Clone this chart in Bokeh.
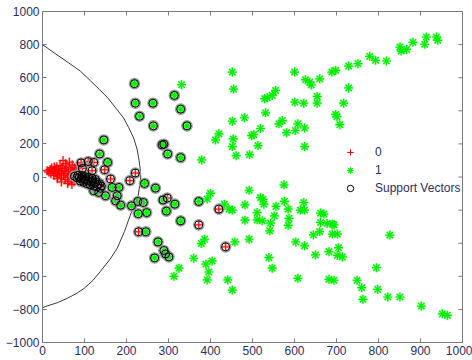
import math
from bokeh.plotting import figure
from bokeh.models import FixedTicker, Legend, LegendItem, Range1d
from bokeh.embed import file_html
from bokeh.resources import INLINE

# ---- data ----
x_ticks = [0, 100, 200, 300, 400, 500, 600, 700, 800, 900, 1000]
y_ticks = [-1000, -800, -600, -400, -200, 0, 200, 400, 600, 800, 1000]

# class 0 (red +), not support vectors
red_x = [11, 15, 18, 20, 22, 25, 27, 30, 32, 34, 36, 38, 40, 42, 44, 45, 47, 49, 50, 52,
         54, 55, 56, 58, 60, 62, 63, 64, 66, 68, 70, 71, 73, 75, 76, 78, 80, 82, 84, 86,
         60, 45, 35, 70, 28]
red_y = [38, 30, 45, 20, 55, 35, 10, 48, 25, 62, 5, 40, 18, 70, -5, 30, 52, 99, 10, 40,
         -15, 80, 22, 60, 0, 35, -25, 90, 12, 48, -10, 72, 25, -30, 55, 5, 40, -20, 70, 20,
         -40, -30, -10, -45, 60]

# class 0 support vectors
red_sv_x = [92, 109, 122, 95, 118, 148, 162, 208, 221, 297, 420, 372, 229, 436,
            76, 82, 88, 92, 96, 100, 104, 108, 112, 116, 120, 124, 128, 132, 136, 140,
            84, 94, 102, 110, 118, 126, 90, 98, 106, 114, 122, 130, 138]
red_sv_y = [85, 93, 88, 52, 38, 44, -12, -22, 24, -127, -194, -289, -331, -422,
            5, -5, 0, -12, -5, -18, -10, -25, -15, -30, -22, -38, -30, -45, -40, -55,
            10, 8, 2, -2, -8, -15, -25, -32, -40, -48, -55, -60, -68]

# class 1 (green *), not support vectors
green_x = [331, 379, 412, 420, 452, 455, 452, 454, 452, 461, 481, 493, 498, 503, 513, 519,
           529, 535, 531, 547, 555, 563, 571, 581, 600, 601, 608, 602, 622, 624, 624, 626,
           636, 640, 660, 654, 654, 689, 698, 698, 701, 708, 717, 729, 729, 751, 779, 793,
           819, 851, 854, 867, 882, 910, 914, 938, 941,
           313, 325, 360, 378, 386, 392, 400, 389, 392, 396, 404, 433, 444, 452, 441, 452,
           458, 482, 482, 492, 492, 511, 511, 519, 525, 527, 523, 539, 541, 543, 547, 552,
           556, 575, 576, 585, 587, 585, 603, 608, 614, 622, 624, 624, 645, 650, 660, 662,
           670, 662, 678, 690, 694, 682, 690, 702, 705, 702, 714, 682, 694, 749, 760, 763,
           795, 798, 822, 827, 851, 902, 952, 964]
green_y = [558, 103, 224, 261, 634, 531, 337, 230, 184, 129, 358, 135, 250, 256, 190, 293,
           473, 479, 388, 493, 523, 321, 341, 268, 634, 452, 321, 281, 446, 296, 184, 588,
           573, 556, 593, 487, 446, 634, 644, 378, 365, 316, 446, 538, 670, 685, 729, 705,
           701, 785, 761, 771, 814, 802, 846, 846, 826,
           -600, -551, -491, -402, -376, -133, -99, -527, -622, -574, -507, -164, -194, -200, -622, -683,
           -392, -168, -261, -80, -376, -215, -259, -125, -135, -164, -265, -487, -325, -279, -551, -235,
           -177, -47, -147, -194, -250, -292, -392, -612, -200, -154, -200, -416, -350, -471, -330, -218,
           -224, -275, -281, -285, -289, -451, -345, -345, -427, -473, -483, -618, -624, -624, -669, -739,
           -548, -679, -725, -351, -725, -780, -827, -836]

# class 1 support vectors
green_sv_x = [219, 221, 263, 231, 314, 329, 264, 344, 285, 289, 298, 329, 146, 136, 155,
              243, 269, 212, 227, 240, 228, 248, 287, 315, 295, 329, 372, 246, 275, 289,
              293, 301, 267, 122, 134, 150, 166, 182, 178, 174, 186]
green_sv_y = [564, 446, 446, 367, 493, 410, 309, 309, 194, 198, 139, 117, 224, 139, 88,
              -39, -67, -174, -148, -154, -222, -215, -139, -164, -206, -265, -148, -331, -392, -444,
              -465, -483, -489, -83, -93, -113, -63, -63, -113, -144, -170]

# decision boundary
curve_x = [0, 25, 62, 90, 114, 135, 155, 175, 193, 205, 217, 225, 230, 233, 234,
           233, 228, 220, 210, 195, 178, 160, 138, 120, 99, 80, 59, 35, 10, 0]
curve_y = [800, 755, 690, 640, 582, 530, 479, 415, 357, 300, 236, 170, 100, 40, 0,
           -24, -110, -170, -224, -330, -430, -500, -570, -625, -673, -705, -733, -760, -780, -790]

labels = ["0", "1", "Support Vectors"]

# ---- figure ----
AX = "#7a7a7a"
TXT = "#2e2e5c"
FONT = "Liberation Sans"

xr = Range1d(x_ticks[0], x_ticks[-1])
yr = Range1d(y_ticks[0], y_ticks[-1])
p = figure(width=472, height=360, x_range=xr, y_range=yr,
           output_backend="svg", toolbar_location=None,
           min_border_left=42, min_border_right=10, min_border_top=11, min_border_bottom=18,
           background_fill_color="white", border_fill_color="white")
p.grid.visible = False
p.outline_line_color = AX
p.outline_line_width = 1

for ax, ticks in ((p.xaxis[0], x_ticks), (p.yaxis[0], y_ticks)):
    ax.ticker = FixedTicker(ticks=ticks)
    ax.axis_line_color = AX
    ax.major_tick_line_color = AX
    ax.major_tick_in = 4
    ax.major_tick_out = 0
    ax.minor_tick_line_color = None
    ax.major_label_text_font = FONT
    ax.major_label_text_font_size = "12px"
    ax.major_label_text_color = TXT
    ax.major_label_standoff = 3

# inward ticks on the top and right edges of the box
p.ray(x=x_ticks, y=yr.end, length=4, length_units="screen", angle=-math.pi / 2,
      line_color=AX, line_width=1)
p.ray(x=xr.end, y=y_ticks, length=4, length_units="screen", angle=math.pi,
      line_color=AX, line_width=1)

# boundary
p.line(curve_x, curve_y, line_color="#3a3a3a", line_width=1)

all_red_x = red_x + red_sv_x
all_red_y = red_y + red_sv_y
all_green_x = green_x + green_sv_x
all_green_y = green_y + green_sv_y
sv_x = red_sv_x + green_sv_x
sv_y = red_sv_y + green_sv_y

# soft halos (anti-aliased look)
p.scatter(all_red_x, all_red_y, marker="cross", size=9, line_color="#ff0000", line_width=2.5, line_alpha=0.3)
r0 = p.scatter(all_red_x, all_red_y, marker="cross", size=9, line_color="#ff0000", line_width=1)
p.scatter(all_green_x, all_green_y, marker="asterisk", size=9, line_color="#00ff00", line_width=2.5, line_alpha=0.35)
r1 = p.scatter(all_green_x, all_green_y, marker="asterisk", size=9, line_color="#00ee00", line_width=1.2)
p.scatter(sv_x, sv_y, marker="circle", size=10, fill_color=None, line_color="#9a9a9a", line_width=1.6)
rsv = p.scatter(sv_x, sv_y, marker="circle", size=8, fill_color=None, line_color="black", line_width=1)

legend = Legend(items=[LegendItem(label=labels[0], renderers=[r0]),
                       LegendItem(label=labels[1], renderers=[r1]),
                       LegendItem(label=labels[2], renderers=[rsv])],
                location=(293, 146), border_line_alpha=0, background_fill_alpha=0,
                glyph_width=30, glyph_height=16, label_height=16, label_standoff=10,
                spacing=2, padding=0, margin=0,
                label_text_font=FONT, label_text_font_size="12px", label_text_color=TXT)
p.add_layout(legend)

open("out.html", "w").write(file_html(p, INLINE))
